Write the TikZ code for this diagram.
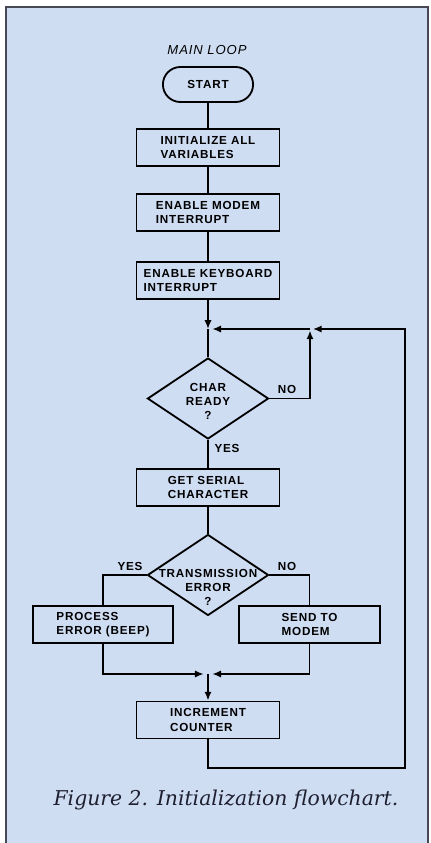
\documentclass[tikz,border=0pt]{standalone}
\usepackage{fontspec}
\usepackage{xcolor}
\usepackage{tikz}
\usetikzlibrary{arrows.meta,positioning,shapes.geometric,shapes.misc}
\newfontfamily\chartfont{Liberation Sans}[LetterSpace=7]
\newfontfamily\capfont{DejaVu Serif}
\definecolor{panel}{RGB}{207,221,243}
\definecolor{frameline}{RGB}{70,72,84}
\definecolor{captext}{RGB}{30,32,48}
\tikzset{
  boxfont/.style={font=\chartfont\bfseries\fontsize{8.3}{10}\selectfont},
  termv/.style={rounded rectangle,draw,line width=1.3pt,minimum width=2.325cm,minimum height=0.875cm,inner sep=1pt,boxfont},
  procbox/.style={rectangle,draw,line width=1.3pt,minimum width=3.575cm,minimum height=0.925cm,inner sep=1pt,align=left,boxfont},
  decide/.style={diamond,draw,line width=1.3pt,minimum width=3.025cm,minimum height=2.025cm,inner sep=0pt},
  dtext/.style={align=center,inner sep=0pt,boxfont},
  flow/.style={line width=1.3pt},
  arr/.style={line width=1.3pt,-{Latex[length=2.2mm,width=1.8mm]}},
  lab/.style={inner sep=0pt,boxfont}
}
\begin{document}
\begin{tikzpicture}[x=0.025cm,y=-0.025cm]
  \useasboundingbox (0,0) rectangle (431,843);
  \fill[white] (0,0) rectangle (431,843);
  \filldraw[fill=panel,draw=frameline,line width=0.8pt] (6,7) rectangle (428,860);

  \node[font=\chartfont\itshape\fontsize{9.3}{10}\selectfont] (title) at (207,50) {MAIN LOOP};
  \node[termv] (start) at (208,84.5) {START};
  \node[procbox] (init) at (208,147.5) {INITIALIZE ALL\\VARIABLES};
  \node[procbox] (modem) at (208,212.5) {ENABLE MODEM\\INTERRUPT};
  \node[procbox] (keyb) at (208,280.5) {ENABLE KEYBOARD\\INTERRUPT};
  \coordinate (j1) at (208,329);
  \coordinate (j2) at (310,329);
  \node[decide] (ready) at (208,398.5) {};
  \node[dtext] (readytxt) at (208,401) {CHAR\\READY\\?};
  \node[procbox] (serial) at (208,487.5) {GET SERIAL\\CHARACTER};
  \node[decide] (trans) at (208,575) {};
  \node[dtext] (transtxt) at (208,587) {TRANSMISSION\\ERROR\\?};
  \node[procbox,minimum width=3.5cm] (beep) at (103,624.5) {PROCESS\\ERROR (BEEP)};
  \node[procbox,minimum width=3.525cm] (send) at (309.5,624.5) {SEND TO\\MODEM};
  \coordinate (j3) at (208,674);
  \node[procbox] (incr) at (208,720) {INCREMENT\\COUNTER};
  \coordinate (lp1) at (405,768);
  \coordinate (lp2) at (405,329);

  \node[lab] (noa) at (287,389) {NO};
  \node[lab] (yesa) at (227,448) {YES};
  \node[lab] (yesb) at (130,566) {YES};
  \node[lab] (nob) at (287,566) {NO};

  \draw[flow] (start) -- (init);
  \draw[flow] (init) -- (modem);
  \draw[flow] (modem) -- (keyb);
  \draw[arr] (keyb) -- (j1);
  \draw[flow] (j1) -- (ready.north);
  \draw[arr,shorten >=1pt] (ready.east) -| (j2);
  \draw[arr,shorten >=3pt] (j2) -- (j1);
  \draw[flow] (ready.south) -- (serial);
  \draw[flow] (serial) -- (trans.north);
  \draw[flow] (trans.west) -| (beep.north);
  \draw[flow] (trans.east) -| (send.north);
  \draw[arr,shorten >=3pt] (beep.south) |- (j3);
  \draw[arr,shorten >=3pt] (send.south) |- (j3);
  \draw[arr] (j3) -- (incr);
  \draw[arr,shorten >=2pt] (incr.south) |- (lp1) -- (lp2) -- (j2);

  \node[font=\capfont\itshape\fontsize{14.5}{17}\selectfont,text=captext] (caption) at (226,800) {Figure 2. Initialization flowchart.};
\end{tikzpicture}
\end{document}
